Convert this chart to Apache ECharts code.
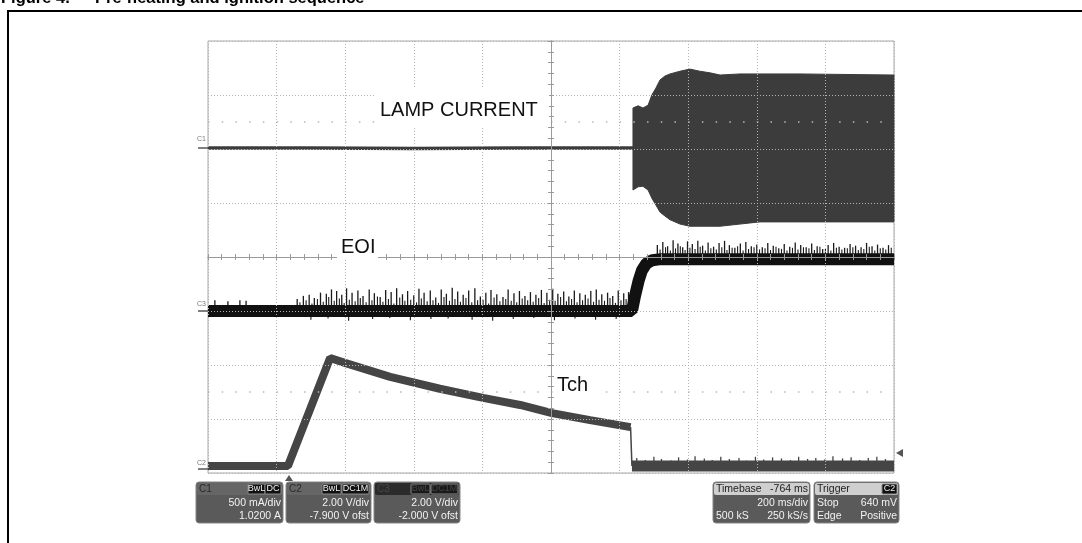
<!DOCTYPE html>
<html><head><meta charset="utf-8">
<script src="https://cdn.jsdelivr.net/npm/echarts@6/dist/echarts.min.js"></script>
<style>html,body{margin:0;padding:0;background:#fff}#c{width:1082px;height:543px}</style>
</head><body><div id="c"></div>
<script>
const FONT = '"Liberation Sans", Arial, sans-serif';
// Time: ms relative to screen centre (200 ms/div). Amplitude: screen divisions.
// C1 lamp current
const lampPreT = [-1000, -700, -400, -100, 239];
const lampPreV = [2.02, 2.02, 2.01, 2.02, 2.02];
const lampBurstT = [239, 254, 268, 283, 294, 306, 318, 332, 347, 376, 405, 434, 464, 493, 551, 609, 726, 1000];
const lampBurstTop = [2.76, 2.80, 2.76, 2.81, 3.00, 3.13, 3.28, 3.35, 3.39, 3.44, 3.48, 3.44, 3.41, 3.37, 3.39, 3.39, 3.39, 3.37];
const lampBurstBot = [1.24, 1.30, 1.31, 1.24, 1.09, 0.96, 0.83, 0.76, 0.69, 0.61, 0.57, 0.57, 0.57, 0.57, 0.61, 0.65, 0.65, 0.65];
// C3 EOI
const eoiT = [-1000, 236, 245, 255, 265, 278, 295, 320, 1000];
const eoiV = [-1.00, -1.00, -0.72, -0.45, -0.25, -0.12, -0.06, -0.04, -0.04];
const eoiSpikeLowT = [-980, -942, -907, -889, -740, -722, -705, -690, -672, -655, -640, -625, -610, -596, -580, -563, -548, -530, -515, -498, -482, -466, -450, -433, -418, -400, -385, -370, -352, -336, -320, -305, -288, -272, -256, -240, -222, -206, -190, -175, -158, -140, -125, -108, -92, -76, -60, -44, -28, -12, 5, 20, 37, 52, 68, 84, 100, 116, 132, 148, 165, 180, 196, 212, 226];
const eoiSpikeLowV = [-0.80, -0.82, -0.80, -0.81, -0.78, -0.72, -0.70, -0.76, -0.66, -0.68, -0.60, -0.63, -0.70, -0.58, -0.66, -0.62, -0.72, -0.60, -0.67, -0.74, -0.61, -0.65, -0.58, -0.69, -0.63, -0.71, -0.59, -0.66, -0.62, -0.75, -0.60, -0.68, -0.57, -0.64, -0.70, -0.62, -0.58, -0.73, -0.66, -0.61, -0.69, -0.74, -0.60, -0.67, -0.63, -0.72, -0.65, -0.70, -0.61, -0.66, -0.59, -0.68, -0.64, -0.73, -0.62, -0.67, -0.70, -0.63, -0.60, -0.69, -0.66, -0.72, -0.62, -0.67, -0.65];
const eoiSpikeLow2T = [-732, -714, -697, -681, -664, -648, -632, -617, -603, -588, -571, -556, -539, -522, -506, -490, -474, -458, -441, -426, -409, -392, -378, -361, -344, -328, -312, -296, -280, -264, -248, -231, -214, -198, -182, -166, -149, -132, -116, -100, -84, -68, -52, -36, -20, -4, 12, 28, 45, 60, 76, 92, 108, 124, 140, 156, 172, 188, 204, 219];
const eoiSpikeLow2V = [-0.84, -0.80, -0.86, -0.78, -0.83, -0.74, -0.81, -0.77, -0.85, -0.79, -0.82, -0.76, -0.84, -0.80, -0.73, -0.83, -0.78, -0.86, -0.75, -0.81, -0.79, -0.84, -0.77, -0.82, -0.80, -0.85, -0.74, -0.81, -0.78, -0.83, -0.76, -0.84, -0.80, -0.79, -0.86, -0.75, -0.82, -0.78, -0.81, -0.84, -0.77, -0.80, -0.83, -0.76, -0.85, -0.79, -0.81, -0.74, -0.82, -0.78, -0.84, -0.80, -0.77, -0.83, -0.79, -0.81, -0.76, -0.85, -0.80, -0.78];
const eoiSpikeDownT = [-700, -650, -590, -520, -470, -410, -350, -300, -230, -170, -110, -50, 10, 70, 130, 190];
const eoiSpikeDownV = [-1.16, -1.14, -1.18, -1.15, -1.13, -1.17, -1.15, -1.14, -1.16, -1.18, -1.15, -1.13, -1.17, -1.14, -1.16, -1.15];
const eoiSpikeHighT = [310, 326, 340, 356, 370, 384, 398, 412, 428, 442, 458, 474, 490, 506, 520, 536, 552, 568, 584, 600, 616, 632, 648, 664, 680, 696, 712, 728, 744, 760, 776, 792, 808, 824, 840, 856, 872, 888, 904, 920, 936, 952, 968, 984];
const eoiSpikeHighV = [0.22, 0.28, 0.20, 0.31, 0.25, 0.18, 0.29, 0.24, 0.30, 0.21, 0.27, 0.19, 0.26, 0.30, 0.22, 0.17, 0.25, 0.28, 0.20, 0.23, 0.18, 0.26, 0.21, 0.16, 0.24, 0.19, 0.27, 0.22, 0.18, 0.25, 0.20, 0.15, 0.22, 0.26, 0.19, 0.17, 0.24, 0.21, 0.18, 0.26, 0.20, 0.23, 0.17, 0.22];
const eoiSpikeHigh2T = [318, 334, 348, 363, 377, 391, 405, 420, 435, 450, 466, 482, 498, 513, 528, 544, 560, 576, 592, 608, 624, 640, 656, 672, 688, 704, 720, 736, 752, 768, 784, 800, 816, 832, 848, 864, 880, 896, 912, 928, 944, 960, 976, 992];
const eoiSpikeHigh2V = [0.14, 0.18, 0.12, 0.16, 0.20, 0.13, 0.17, 0.15, 0.19, 0.12, 0.16, 0.14, 0.18, 0.13, 0.17, 0.20, 0.12, 0.15, 0.18, 0.14, 0.16, 0.13, 0.19, 0.15, 0.12, 0.17, 0.14, 0.18, 0.16, 0.13, 0.19, 0.15, 0.12, 0.17, 0.14, 0.16, 0.18, 0.13, 0.15, 0.19, 0.12, 0.16, 0.14, 0.17];
// C2 Tch
const tchT = [-1000, -767, -644, -601, -469, -324, -198, -90, 3, 114, 232];
const tchV = [-3.87, -3.87, -1.87, -1.96, -2.22, -2.44, -2.61, -2.74, -2.89, -3.02, -3.15];
const tchDropT = [232, 236];
const tchDropV = [-3.15, -3.87];
const tchPostT = [236, 1000];
const tchPostV = [-3.87, -3.87];
const tchPostSpikeT = [250, 275, 300, 322, 350, 372, 398, 420, 447, 470, 495, 520, 548, 570, 596, 620, 646, 672, 698, 722, 748, 772, 798, 822, 850, 875, 900, 925, 950, 975];
const tchPostSpikeV = [-3.72, -3.76, -3.70, -3.74, -3.77, -3.71, -3.75, -3.69, -3.73, -3.76, -3.70, -3.74, -3.72, -3.77, -3.70, -3.75, -3.71, -3.73, -3.76, -3.70, -3.74, -3.72, -3.75, -3.69, -3.73, -3.71, -3.76, -3.72, -3.70, -3.74];

const zip = (a, b) => a.map((v, i) => [v, b[i]]);
const spikes = (t, base, top) => t.map((v, i) => [v, base, top[i]]);

const chart = echarts.init(document.getElementById('c'), null, {renderer: 'canvas'});

const gridDots = {color: '#b4b4b4', width: 1, type: [1, 2]};
const axisCol = '#9a9a9a';
function xAx(pos, split) {
  return {
    type: 'value', min: -1000, max: 1000, interval: 200, position: pos, z: 10,
    axisLine: {show: true, onZero: true, onZeroAxisIndex: 0, lineStyle: {color: axisCol, width: 1}},
    axisTick: {show: true, inside: true, length: 3, lineStyle: {color: axisCol}},
    minorTick: {show: true, splitNumber: 5, length: 3, lineStyle: {color: axisCol}},
    axisLabel: {show: false},
    splitLine: {show: split, lineStyle: gridDots},
    minorSplitLine: {show: false}
  };
}
function yAx(pos, split) {
  return {
    type: 'value', min: -4, max: 4, interval: 1, position: pos, z: 10,
    axisLine: {show: true, onZero: true, onZeroAxisIndex: 0, lineStyle: {color: axisCol, width: 1}},
    axisTick: {show: true, inside: true, length: 3, lineStyle: {color: axisCol}},
    minorTick: {show: true, splitNumber: 5, length: 3, lineStyle: {color: axisCol}},
    axisLabel: {show: false},
    splitLine: {show: split, lineStyle: gridDots}
  };
}

const spikeRender = (col, w) => function (params, api) {
  const p1 = api.coord([api.value(0), api.value(1)]);
  const p2 = api.coord([api.value(0), api.value(2)]);
  return {type: 'line', shape: {x1: p1[0], y1: p1[1], x2: p2[0], y2: p2[1]}, style: {stroke: col, lineWidth: w}};
};
const bandRender = function (params, api) {
  const pts = [];
  for (let i = 0; i < lampBurstT.length; i++) pts.push(api.coord([lampBurstT[i], lampBurstTop[i]]));
  for (let i = lampBurstT.length - 1; i >= 0; i--) pts.push(api.coord([lampBurstT[i], lampBurstBot[i]]));
  return {type: 'polygon', shape: {points: pts}, style: {fill: '#3c3c3c', stroke: '#3c3c3c', lineWidth: 1}};
};

function txt(x, y, s, opt) {
  return Object.assign({type: 'text', x: x, y: y, z: 100,
    style: Object.assign({text: s, font: '10.5px ' + FONT, fill: '#f2f2f2', align: 'left', verticalAlign: 'middle'}, opt || {})});
}
function rect(x, y, w, h, fill, opt) {
  return Object.assign({type: 'rect', z: 99, shape: {x: x, y: y, width: w, height: h, r: (opt && opt.r) || 0},
    style: {fill: fill, stroke: (opt && opt.stroke) || null, lineWidth: 1}});
}
function badge(x, w, s, col, bg) {
  return [rect(x, 484, w, 10, bg || '#111', {r: 1, stroke: '#888'}),
          txt(x + w / 2, 489, s, {align: 'center', font: '9px ' + FONT, fill: col || '#f0f0f0'})];
}

const graphics = [];
// outer figure frame and title
graphics.push({type: 'line', z: 100, shape: {x1: 7, y1: 11, x2: 1082, y2: 11}, style: {stroke: '#000', lineWidth: 2}});
graphics.push({type: 'line', z: 100, shape: {x1: 8, y1: 10, x2: 8, y2: 543}, style: {stroke: '#000', lineWidth: 2}});
graphics.push(txt(1, -2, 'Figure 4.', {font: 'bold 16.5px ' + FONT, fill: '#000'}));
graphics.push(txt(95, -2, 'Pre-heating and ignition sequence', {font: 'bold 16.5px ' + FONT, fill: '#000'}));
// trace labels with white backgrounds
graphics.push(rect(376, 88, 173, 38, '#fff'));
graphics.push(txt(380, 110.5, 'LAMP CURRENT', {font: '20px ' + FONT, fill: '#111'}));
graphics.push(rect(337, 233, 41, 27, '#fff'));
graphics.push(txt(341, 247, 'EOI', {font: '20px ' + FONT, fill: '#111'}));
graphics.push(rect(554, 372, 46, 26, '#fff'));
graphics.push(txt(557, 385, 'Tch', {font: '20px ' + FONT, fill: '#111'}));
// channel markers at left
[['C1', 139, 148], ['C3', 304, 311], ['C2', 463, 469]].forEach(function (m) {
  graphics.push(txt(197, m[1], m[0], {font: '7px ' + FONT, fill: '#777'}));
  graphics.push({type: 'line', z: 100, shape: {x1: 198, y1: m[2], x2: 208, y2: m[2]}, style: {stroke: '#555', lineWidth: 1.5}});
});
// trigger markers
graphics.push({type: 'polygon', z: 100, shape: {points: [[896, 453], [903, 449], [903, 457]]}, style: {fill: '#555'}});
graphics.push({type: 'polygon', z: 100, shape: {points: [[289, 475], [285, 481], [293, 481]]}, style: {fill: '#555'}});

// bottom info panels
function panel(x, w, hdrFill) {
  graphics.push(rect(x, 482, w, 41, '#5a5a5a', {r: 3, stroke: '#858585'}));
  graphics.push(rect(x + 1, 483, w - 2, 12, hdrFill, {r: 2}));
}
panel(196, 87, '#666');
graphics.push(txt(199, 489, 'C1', {font: '10px ' + FONT, fill: '#2a2a2a'}));
graphics.push(...badge(248, 17, 'BwL'), ...badge(265, 16, 'DC'));
graphics.push(txt(281, 503, '500 mA/div', {align: 'right'}), txt(281, 516, '1.0200 A', {align: 'right'}));
panel(286, 85, '#666');
graphics.push(txt(289, 489, 'C2', {font: '10px ' + FONT, fill: '#2a2a2a'}));
graphics.push(...badge(322, 19, 'BwL'), ...badge(342, 27, 'DC1M'));
graphics.push(txt(369, 503, '2.00 V/div', {align: 'right'}), txt(369, 516, '-7.900 V ofst', {align: 'right'}));
panel(374, 86, '#2b2b2b');
graphics.push(txt(377, 489, 'C3', {font: '10px ' + FONT, fill: '#484848'}));
graphics.push(...badge(411, 19, 'BwL', '#444', '#1a1a1a'), ...badge(431, 27, 'DC1M', '#444', '#1a1a1a'));
graphics.push(txt(458, 503, '2.00 V/div', {align: 'right'}), txt(458, 516, '-2.000 V ofst', {align: 'right'}));
panel(713, 97, '#cfcfcf');
graphics.push(txt(716, 489, 'Timebase', {fill: '#222'}), txt(808, 489, '-764 ms', {fill: '#222', align: 'right'}));
graphics.push(txt(808, 503, '200 ms/div', {align: 'right'}), txt(716, 516, '500 kS'), txt(808, 516, '250 kS/s', {align: 'right'}));
panel(814, 85, '#cfcfcf');
graphics.push(txt(817, 489, 'Trigger', {fill: '#222'}));
graphics.push(...badge(882, 15, 'C2'));
graphics.push(txt(817, 503, 'Stop'), txt(897, 503, '640 mV', {align: 'right'}));
graphics.push(txt(817, 516, 'Edge'), txt(897, 516, 'Positive', {align: 'right'}));

const spikeSeries = (name, t, base, v, col, w) => ({type: 'custom', name: name, data: spikes(t, base, v), encode: {x: 0, y: [1, 2]}, renderItem: spikeRender(col, w)});

const option = {
  animation: false,
  backgroundColor: '#fff',
  grid: {left: 208, top: 41, width: 686, height: 432, show: true, borderColor: '#a8a8a8', borderWidth: 1, backgroundColor: '#fff', z: 0},
  xAxis: [xAx('bottom', true), xAx('top', false)],
  yAxis: [yAx('left', true), yAx('right', false)],
  graphic: graphics,
  series: [
    {type: 'line', name: 'sub', data: [], markLine: {silent: true, symbol: 'none', label: {show: false},
      lineStyle: {color: '#b8b8b8', width: 1.5, type: [1.5, 12.22]}, data: [{yAxis: 2.5}, {yAxis: -2.5}]}},
    {type: 'line', name: 'lampPre', data: zip(lampPreT, lampPreV), symbol: 'none', lineStyle: {color: '#3c3c3c', width: 3.5}},
    {type: 'custom', name: 'lampBurst', data: [[lampBurstT[0], lampBurstTop[0]]], encode: {x: 0, y: 1}, renderItem: bandRender},
    spikeSeries('eoiSpikeLow', eoiSpikeLowT, -1.0, eoiSpikeLowV, '#1a1a1a', 1.3),
    spikeSeries('eoiSpikeLow2', eoiSpikeLow2T, -1.0, eoiSpikeLow2V, '#1a1a1a', 1.1),
    spikeSeries('eoiSpikeDown', eoiSpikeDownT, -1.0, eoiSpikeDownV, '#1a1a1a', 1.1),
    spikeSeries('eoiSpikeHigh', eoiSpikeHighT, -0.04, eoiSpikeHighV, '#1a1a1a', 1.3),
    spikeSeries('eoiSpikeHigh2', eoiSpikeHigh2T, -0.04, eoiSpikeHigh2V, '#1a1a1a', 1.1),
    {type: 'line', name: 'EOI', data: zip(eoiT, eoiV), symbol: 'none', lineStyle: {color: '#111', width: 12}},
    {type: 'line', name: 'Tch', data: zip(tchT, tchV), symbol: 'none', lineStyle: {color: '#454545', width: 8}},
    {type: 'line', name: 'TchDrop', data: zip(tchDropT, tchDropV), symbol: 'none', lineStyle: {color: '#454545', width: 1.5}},
    spikeSeries('tchPostSpike', tchPostSpikeT, -3.87, tchPostSpikeV, '#454545', 1.3),
    {type: 'line', name: 'TchPost', data: zip(tchPostT, tchPostV), symbol: 'none', lineStyle: {color: '#454545', width: 11}}
  ]
};
chart.setOption(option);
</script></body></html>
